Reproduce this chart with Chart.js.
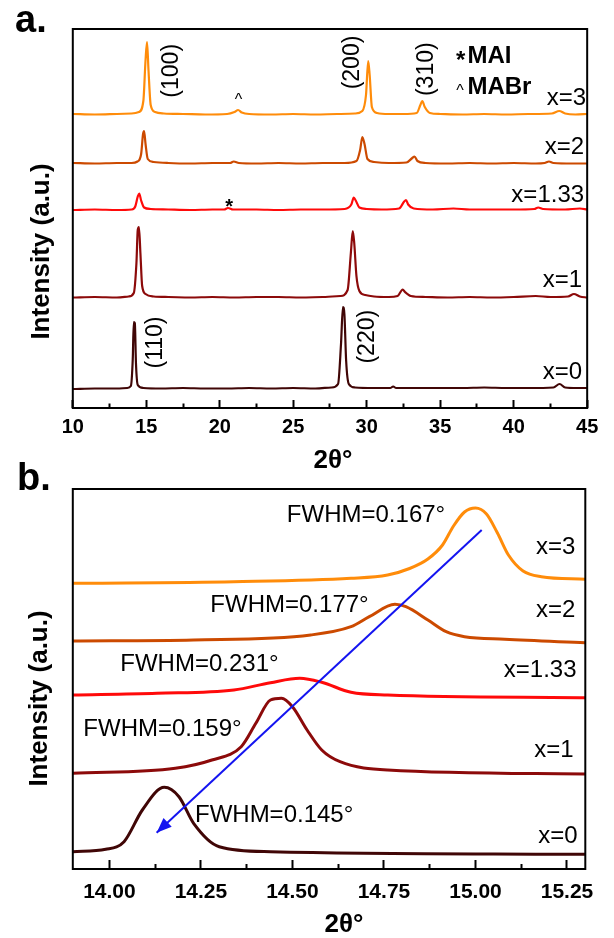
<!DOCTYPE html>
<html>
<head>
<meta charset="utf-8">
<script src="https://cdn.jsdelivr.net/npm/chart.js@4.4.1/dist/chart.umd.min.js"></script>
<style>
  html, body { margin: 0; padding: 0; background: #fff; }
  #wrap { position: relative; width: 614px; height: 938px; overflow: hidden; }
  canvas { position: absolute; left: 0; }
  #cA { top: 0; }
  #cB { top: 460px; }
</style>
</head>
<body>
<div id="wrap">
  <canvas id="cA" width="614" height="480"></canvas>
  <canvas id="cB" width="614" height="478"></canvas>
</div>
<script>
// ---- panel a : full XRD patterns, [2theta, intensity above own baseline] ----
const aX3 = [[10,1],[11.5,0.5],[13,1],[14,1.5],[14.5,3],[14.8,14],[14.95,55],[15.05,73],[15.15,45],[15.3,10],[15.6,3],[16.2,1.5],[17.5,1],[19,0.5],[20.5,1],[21,3],[21.25,5],[21.5,2.5],[22,1],[23.5,0.5],[25,1],[26.5,0.5],[28,1],[29.2,1.5],[29.7,4],[29.95,20],[30.1,54],[30.2,40],[30.35,8],[30.7,2],[31.5,1],[32.5,1],[33.4,2],[33.65,10],[33.78,14],[33.95,8],[34.3,2],[35,1],[36.5,0.5],[38,1],[39.5,0.5],[41,1],[42.6,1.5],[43.1,4],[43.5,1.5],[44.2,0.5],[45,1]];
const aX2 = [[10,1],[11.5,0.5],[13,1],[14,1],[14.4,2.5],[14.65,10],[14.78,30],[14.85,33],[14.95,20],[15.1,5],[15.5,2],[16.5,1],[18,0.5],[19.5,1],[20.7,1],[20.95,2.5],[21.3,1],[22.5,0.5],[24,1],[25.5,0.5],[27,1],[28.5,1],[29.3,3],[29.55,14],[29.7,27],[29.85,20],[30.05,5],[30.5,2],[31.5,1],[32.7,1.5],[33.1,6],[33.25,7.5],[33.45,3],[34,1],[35.5,0.5],[37,1],[38.5,0.5],[40,1],[41.5,0.5],[42.1,1],[42.4,2.5],[42.7,1],[44,0.5],[45,0.5]];
const aX133 = [[10,0.5],[11.5,1],[13,0.5],[14,1],[14.25,4],[14.42,14],[14.52,17],[14.65,10],[14.85,3],[15.3,1.5],[16.5,1],[18,0.5],[19.5,1],[20.3,1],[20.56,2.5],[20.9,1],[22.5,1],[24,0.5],[25.5,1],[27,1],[28.5,1.5],[28.95,6],[29.12,13],[29.25,10],[29.5,3],[30,1.5],[31,1],[32.2,2],[32.55,9],[32.67,10.5],[32.82,6],[33.2,2],[34.5,1],[35.9,2],[37,1],[38.5,1],[40,1],[41.4,1.5],[41.67,3],[42,1.5],[43.5,1],[44.5,2],[45,1]];
const aX1 = [[10,0.5],[11.5,1],[13,0.5],[13.8,1.5],[14.15,5],[14.33,35],[14.42,68],[14.5,71],[14.6,45],[14.72,12],[14.95,4],[15.5,1.5],[16.5,1],[18,0.5],[19.5,1],[21,0.5],[22.5,1],[24,1],[25.5,0.5],[27,1],[28.2,2],[28.7,8],[28.92,45],[29.05,67],[29.15,55],[29.3,22],[29.5,7],[29.9,3],[30.5,1.5],[31.5,1],[32.1,2],[32.45,8.5],[32.6,6],[33,2],[34,1],[35.5,0.5],[37,1],[38.5,0.5],[40,1],[41.5,2],[42.5,1],[43.7,1.5],[44.1,4],[44.5,1.5],[45,0.5]];
const aX0 = [[10,0],[11.5,0.5],[13,0.5],[13.7,1],[13.95,3],[14.08,30],[14.15,67],[14.22,66],[14.3,25],[14.42,4],[14.8,1],[16,0.5],[17.5,1],[19,0.5],[20.5,0.5],[22,1],[23.5,0.5],[25,1],[26.5,0.5],[27.6,1.5],[28.05,5],[28.25,45],[28.38,82],[28.48,75],[28.6,28],[28.78,5],[29.2,1.5],[30.5,1],[31.6,1],[31.8,2.5],[32,1],[33.5,1],[35,1],[36.5,1],[38,1.5],[39.5,1],[41,1],[42.7,1.5],[43.12,5],[43.5,1.5],[44.3,1],[45,1]];
const aOffsets = [293, 244, 197.5, 110, 19];
const aMajorTicks = [10, 15, 20, 25, 30, 35, 40, 45];
const aMinorTicks = [12.5, 17.5, 22.5, 27.5, 32.5, 37.5, 42.5];

// ---- panel b : (100)/(110) peak zoom, stacked intensity ----
const bX3 = [[13.9,285.7],[14.34,287.3],[14.66,290.7],[14.76,294],[14.82,300.5],[14.87,310],[14.91,324],[14.94,343],[14.97,357],[15.0,361],[15.03,355],[15.06,336],[15.09,314],[15.13,298],[15.18,292.3],[15.3,289.7]];
const bX2 = [[13.9,228],[14.23,229],[14.55,234],[14.66,242.3],[14.71,252.3],[14.78,264.7],[14.81,262.3],[14.87,249],[14.92,237.3],[14.97,232.3],[15.08,229.7],[15.3,226.3]];
const bX133 = [[13.9,174],[14.13,175.7],[14.34,179],[14.44,186.3],[14.52,190.7],[14.58,186.7],[14.66,176.7],[14.76,174],[15.3,171.3]];
const bX1 = [[13.9,95.7],[14.18,100.7],[14.28,109],[14.36,122.3],[14.4,145.7],[14.44,169],[14.47,170.7],[14.5,162.3],[14.54,139],[14.58,119],[14.63,107.3],[14.76,99],[15.3,95]];
const bX0 = [[13.9,17.3],[13.99,19.7],[14.04,27.3],[14.09,59],[14.15,81.7],[14.19,72.3],[14.23,45.7],[14.3,22.3],[14.44,17.3],[15.3,14.7]];
const bArrow = [[15.017,339],[14.129,36.3]];
const bMajorTicks = [14.00, 14.25, 14.50, 14.75, 15.00, 15.25];
const bMinorTicks = [14.125, 14.375, 14.625, 14.875, 15.125];

const seriesNames = ["x=3", "x=2", "x=1.33", "x=1", "x=0"];
const colors = ["#FF8C0A", "#CC4A00", "#FF0A0A", "#8C0A0A", "#400606"];
const FAMILY = "'Liberation Sans', Arial, sans-serif";
Chart.defaults.font.family = FAMILY;
Chart.defaults.color = "#000";

const aLabels = [
  { text: "x=3", x: 44.92, y: 309.5, align: "right" },
  { text: "x=2", x: 44.79, y: 260.5, align: "right" },
  { text: "x=1.33", x: 44.79, y: 213, align: "right" },
  { text: "x=1", x: 44.66, y: 128, align: "right" },
  { text: "x=0", x: 44.66, y: 35.5, align: "right" },
  { text: "(100)", x: 16.75, y: 337.2, rotate: -90, font: `23px ${FAMILY}` },
  { text: "(200)", x: 29.03, y: 345.5, rotate: -90, font: `23px ${FAMILY}` },
  { text: "(310)", x: 34.07, y: 338.8, rotate: -90, font: `23px ${FAMILY}` },
  { text: "(110)", x: 15.67, y: 65.5, rotate: -90, font: `23px ${FAMILY}` },
  { text: "(220)", x: 30.09, y: 71.3, rotate: -90, font: `23px ${FAMILY}` },
  { text: "*", x: 36.4, y: 340.4, baseline: "alphabetic", font: `bold 24px ${FAMILY}` },
  { text: "MAI", x: 36.85, y: 352, align: "left", font: `bold 24px ${FAMILY}` },
  { text: "^", x: 36.35, y: 312.3, baseline: "alphabetic", font: `16px ${FAMILY}` },
  { text: "MABr", x: 36.85, y: 320.7, align: "left", font: `bold 24px ${FAMILY}` },
  { text: "^", x: 21.28, y: 303, baseline: "alphabetic", font: `16px ${FAMILY}` },
  { text: "*", x: 20.64, y: 195.5, baseline: "alphabetic", font: `bold 20px ${FAMILY}` }
];
const aTitles = [
  { text: "a.", x: 15, y: 32, align: "left", baseline: "alphabetic", font: `bold 38px ${FAMILY}` },
  { text: "Intensity (a.u.)", x: 42, y: 251.5, rotate: -90, font: `bold 26px ${FAMILY}` },
  { text: "2θ°", x: 333, y: 461, font: `bold 26px ${FAMILY}` }
];
const bLabels = [
  { text: "FWHM=0.167°", x: 14.701, y: 353.2 },
  { text: "FWHM=0.177°", x: 14.492, y: 263.2 },
  { text: "FWHM=0.231°", x: 14.246, y: 204.8 },
  { text: "FWHM=0.159°", x: 14.145, y: 139.8 },
  { text: "FWHM=0.145°", x: 14.45, y: 53.2 },
  { text: "x=3", x: 15.273, y: 321.5, align: "right" },
  { text: "x=2", x: 15.273, y: 258.2, align: "right" },
  { text: "x=1.33", x: 15.276, y: 199, align: "right" },
  { text: "x=1", x: 15.268, y: 118.2, align: "right" },
  { text: "x=0", x: 15.279, y: 32.3, align: "right" }
];
const bTitles = [
  { text: "b.", x: 17, y: 30, align: "left", baseline: "alphabetic", font: `bold 38px ${FAMILY}` },
  { text: "Intensity (a.u.)", x: 40, y: 238.5, rotate: -90, font: `bold 26px ${FAMILY}` },
  { text: "2θ°", x: 344, y: 465, font: `bold 26px ${FAMILY}` }
];

// frame + text annotations
const annotate = {
  id: "annotate",
  afterDatasetsDraw(chart, args, opts) {
    const { ctx, chartArea: ca, scales } = chart;
    ctx.save();
    // arrow head on the dataset flagged as arrow
    chart.data.datasets.forEach((ds, i) => {
      if (!ds.arrow) return;
      const pts = chart.getDatasetMeta(i).data;
      const p0 = pts[0], p1 = pts[pts.length - 1];
      const ang = Math.atan2(p1.y - p0.y, p1.x - p0.x);
      const L = 15, W = 6;
      ctx.fillStyle = ds.borderColor;
      ctx.beginPath();
      ctx.moveTo(p1.x, p1.y);
      ctx.lineTo(p1.x - L * Math.cos(ang) + W * Math.sin(ang), p1.y - L * Math.sin(ang) - W * Math.cos(ang));
      ctx.lineTo(p1.x - L * Math.cos(ang) - W * Math.sin(ang), p1.y - L * Math.sin(ang) + W * Math.cos(ang));
      ctx.closePath();
      ctx.fill();
    });
    ctx.strokeStyle = "#000";
    ctx.lineWidth = 2;
    ctx.strokeRect(ca.left, ca.top, ca.right - ca.left, ca.bottom - ca.top);
    const draw = (t, x, y) => {
      ctx.save();
      ctx.translate(x, y);
      if (t.rotate) ctx.rotate(t.rotate * Math.PI / 180);
      ctx.font = t.font || opts.font;
      ctx.fillStyle = "#000";
      ctx.textAlign = t.align || "center";
      ctx.textBaseline = t.baseline || "middle";
      ctx.fillText(t.text, 0, 0);
      ctx.restore();
    };
    for (const t of opts.labels) draw(t, scales.x.getPixelForValue(t.x), scales.y.getPixelForValue(t.y));
    for (const t of opts.titles) draw(t, t.x, t.y);
    ctx.restore();
  }
};

function xScales(min, max, major, minor, cfg) {
  return {
    xm: {
      type: "linear", position: "bottom", min, max, weight: 0,
      afterBuildTicks: s => { s.ticks = minor.map(v => ({ value: v })); },
      afterFit: s => { s.height = 0; },
      grid: { drawOnChartArea: false, tickLength: cfg.minorLen, tickWidth: 2, tickColor: "#000" },
      border: { display: false },
      ticks: { display: false }
    },
    x: {
      type: "linear", position: "bottom", min, max, weight: 1,
      afterBuildTicks: s => { s.ticks = major.map(v => ({ value: v })); },
      afterFit: s => { s.height = cfg.height; },
      grid: { drawOnChartArea: false, tickLength: cfg.majorLen, tickWidth: 2, tickColor: "#000" },
      border: { display: false },
      ticks: {
        autoSkip: false, maxRotation: 0, padding: cfg.pad, color: "#000",
        font: { size: cfg.fontSize, weight: "bold" },
        callback: v => v.toFixed(cfg.digits)
      }
    }
  };
}

function lineSet(pts, color, width, offset) {
  return {
    data: pts.map(([x, y]) => ({ x, y: y + offset })),
    borderColor: color, borderWidth: width, pointRadius: 0,
    cubicInterpolationMode: "monotone", fill: false
  };
}

const aSeries = [aX3, aX2, aX133, aX1, aX0];
new Chart(document.getElementById("cA"), {
  type: "line",
  data: { datasets: aSeries.map((s, i) => ({ label: seriesNames[i], ...lineSet(s, colors[i], 2.2, aOffsets[i]) })) },
  options: {
    responsive: false, animation: false,
    layout: { padding: { left: 72.8, right: 23.5, top: 29, bottom: 0 } },
    scales: {
      ...xScales(10, 45, aMajorTicks, aMinorTicks, { height: 72, majorLen: -8, minorLen: -4.5, pad: 15.7, fontSize: 20, digits: 0 }),
      y: { display: false, min: 0, max: 379 }
    },
    plugins: {
      legend: { display: false }, tooltip: { enabled: false },
      annotate: { labels: aLabels, titles: aTitles, font: `24px ${FAMILY}` }
    }
  },
  plugins: [annotate]
});

const bSeries = [bX3, bX2, bX133, bX1, bX0];
new Chart(document.getElementById("cB"), {
  type: "line",
  data: {
    datasets: [
      { label: "arrow", arrow: true, data: bArrow.map(([x, y]) => ({ x, y })), borderColor: "#1414F0", borderWidth: 2, pointRadius: 0, tension: 0 },
      ...bSeries.map((s, i) => ({ label: seriesNames[i], ...lineSet(s, colors[i], 3, 0) }))
    ]
  },
  options: {
    responsive: false, animation: false,
    layout: { padding: { left: 72.8, right: 23.5, top: 29, bottom: 0 } },
    scales: {
      ...xScales(13.9, 15.3, bMajorTicks, bMinorTicks, { height: 69, majorLen: -9, minorLen: -5, pad: 19.7, fontSize: 21, digits: 2 }),
      y: { display: false, min: 0, max: 380 }
    },
    plugins: {
      legend: { display: false }, tooltip: { enabled: false },
      annotate: { labels: bLabels, titles: bTitles, font: `24px ${FAMILY}` }
    }
  },
  plugins: [annotate]
});
</script>
</body>
</html>
